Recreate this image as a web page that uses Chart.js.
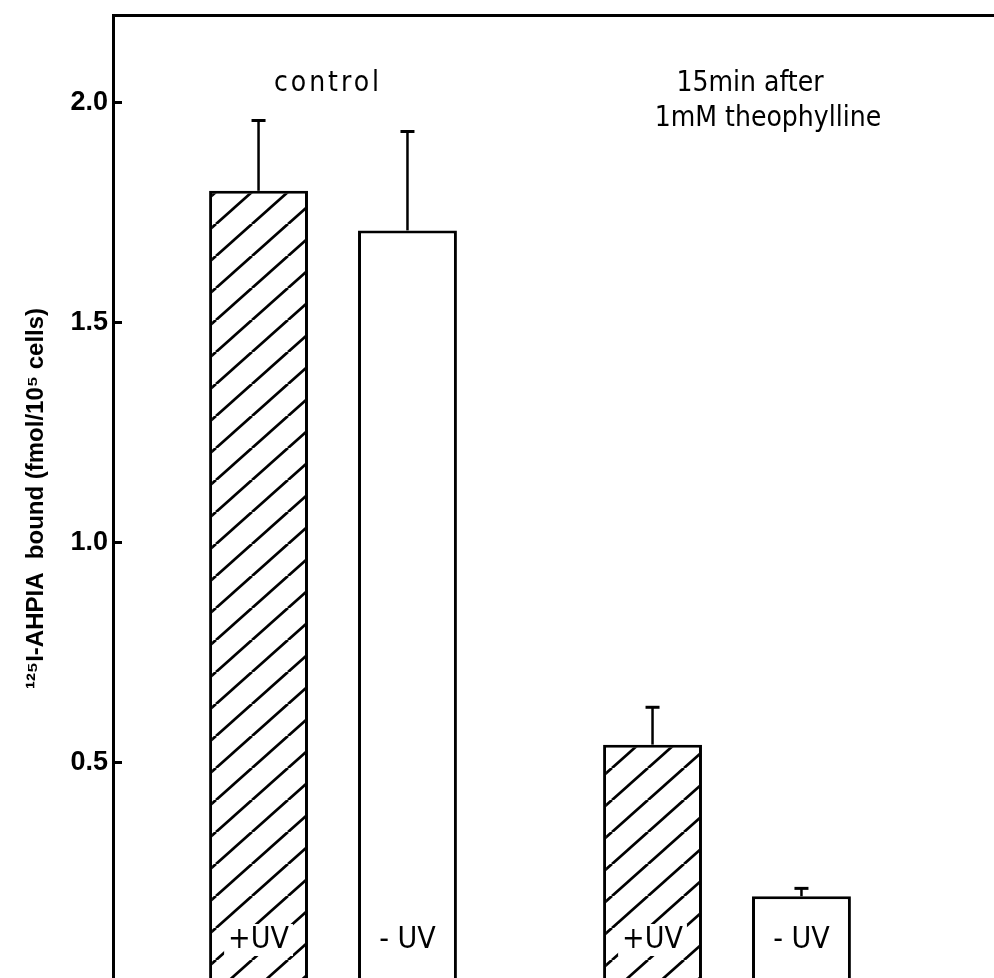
<!DOCTYPE html>
<html>
<head>
<meta charset="utf-8">
<script src="https://cdn.jsdelivr.net/npm/chart.js@4.4.1/dist/chart.umd.min.js"></script>
<style>
  html, body { margin: 0; padding: 0; background: #fff; overflow: hidden; }
  #wrap { width: 994px; height: 982px; }
</style>
</head>
<body>
<div id="wrap"><canvas id="chart"></canvas></div>
<script>
// values
var groups = [['control'], ['15min after', '1mM theophylline']];
var groupX = [1, 2];
var plusUV = [1.80, 0.54];
var plusUVErr = [0.16, 0.085];
var minusUV = [1.71, 0.195];
var minusUVErr = [0.225, 0.018];
var barLabels = ['+UV', '- UV'];
var yTicks = [0.5, 1.0, 1.5, 2.0];
var yTitle = '\u00B9\u00B2\u2075I-AHPIA  bound (fmol/10\u2075 cells)';

// diagonal hatch for the +UV bars
function hatch() {
    var w = 36, h = 32;
    var c = document.createElement('canvas');
    c.width = w; c.height = h;
    var g = c.getContext('2d');
    g.fillStyle = '#fff';
    g.fillRect(0, 0, w, h);
    g.strokeStyle = '#000';
    g.lineWidth = 2.8;
    [-w, 0, w].forEach(function (dx) {
        g.beginPath();
        g.moveTo(dx, h);
        g.lineTo(dx + w, 0);
        g.stroke();
    });
    return g.createPattern(c, 'repeat');
}

var errorBars = {
    id: 'errorBars',
    afterDatasetsDraw: function (chart) {
        var ctx = chart.ctx, y = chart.scales.y;
        ctx.save();
        ctx.strokeStyle = '#000';
        chart.data.datasets.forEach(function (ds, i) {
            chart.getDatasetMeta(i).data.forEach(function (bar, j) {
                var top = y.getPixelForValue(ds.data[j].y + ds.errors[j]);
                ctx.lineWidth = 2.5;
                ctx.beginPath();
                ctx.moveTo(bar.x, bar.y);
                ctx.lineTo(bar.x, top);
                ctx.stroke();
                ctx.lineWidth = 3;
                ctx.beginPath();
                ctx.moveTo(bar.x - 7, top);
                ctx.lineTo(bar.x + 7, top);
                ctx.stroke();
            });
        });
        ctx.restore();
    }
};

var textLabels = {
    id: 'textLabels',
    afterDraw: function (chart) {
        var ctx = chart.ctx, x = chart.scales.x, area = chart.chartArea;
        ctx.save();
        ctx.fillStyle = '#000';
        ctx.textBaseline = 'middle';
        ctx.textAlign = 'center';
        // labels inside the bars
        ctx.font = '30px "DejaVu Sans Condensed", "DejaVu Sans", sans-serif';
        chart.data.datasets.forEach(function (ds, i) {
            chart.getDatasetMeta(i).data.forEach(function (bar) {
                var ty = area.bottom - 42;
                var w = ctx.measureText(ds.label).width;
                if (i === 0) {
                    ctx.fillStyle = '#fff';
                    ctx.fillRect(bar.x - w / 2 - 4, ty - 16, w + 8, 32);
                }
                ctx.fillStyle = '#000';
                ctx.fillText(ds.label, bar.x, ty);
            });
        });
        // group captions at the top
        ctx.font = '28px "DejaVu Sans Condensed", "DejaVu Sans", sans-serif';
        var shifts = [[-5], [23, 41]];
        var spacing = ['3px', '0px'];
        groups.forEach(function (lines, g) {
            var cx = x.getPixelForValue(groupX[g]);
            ctx.letterSpacing = spacing[g];
            lines.forEach(function (line, k) {
                ctx.fillText(line, cx + shifts[g][k], 84 + k * 35);
            });
        });
        ctx.restore();
    }
};

var ctx = document.getElementById('chart').getContext('2d');
var myChart = new Chart(ctx, {
    type: 'bar',
    data: {
        datasets: [{
            label: barLabels[0],
            data: groupX.map(function (v, i) { return { x: v, y: plusUV[i] }; }),
            errors: plusUVErr,
            backgroundColor: hatch(),
            borderColor: '#000',
            borderWidth: 3
        }, {
            label: barLabels[1],
            data: groupX.map(function (v, i) { return { x: v, y: minusUV[i] }; }),
            errors: minusUVErr,
            backgroundColor: '#fff',
            borderColor: '#000',
            borderWidth: 3
        }]
    },
    options: {
        responsive: true,
        maintainAspectRatio: false,
        animation: false,
        layout: { autoPadding: false, padding: { top: 15, left: 0, right: 0, bottom: 0 } },
        categoryPercentage: 0.756,
        barPercentage: 0.664,
        plugins: {
            legend: { display: false },
            tooltip: { enabled: false }
        },
        scales: {
            x: {
                type: 'linear',
                offset: false,
                min: 0.4416,
                max: 2.6777,
                afterBuildTicks: function (s) { s.ticks = groupX.map(function (v) { return { value: v }; }); },
                afterFit: function (s) { s.height = 0; },
                ticks: { display: false },
                grid: { display: false, drawTicks: false },
                border: { color: '#000', width: 3 }
            },
            x2: {
                type: 'linear',
                position: 'top',
                offset: false,
                min: 0,
                max: 1,
                afterFit: function (s) { s.height = 0; },
                ticks: { display: false },
                grid: { display: false, drawTicks: false },
                border: { color: '#000', width: 3 }
            },
            y: {
                min: 0,
                max: 2.2,
                afterBuildTicks: function (s) { s.ticks = yTicks.map(function (v) { return { value: v }; }); },
                afterFit: function (s) {
                    s.width = 113;
                    s.paddingTop = 0;
                    s.paddingBottom = 0;
                },
                ticks: {
                    color: '#000',
                    padding: 14,
                    font: { family: '"Liberation Sans", Arial, sans-serif', size: 27, weight: 'bold' },
                    callback: function (v) { return v.toFixed(1); }
                },
                grid: { drawOnChartArea: false, tickLength: -9, tickWidth: 3, color: '#000' },
                border: { color: '#000', width: 3 },
                title: {
                    display: true,
                    text: yTitle,
                    color: '#000',
                    font: { family: '"Liberation Sans", Arial, sans-serif', size: 24, weight: 'bold' },
                    padding: { top: 22, bottom: 0 }
                }
            }
        }
    },
    plugins: [errorBars, textLabels]
});
</script>
</body>
</html>
